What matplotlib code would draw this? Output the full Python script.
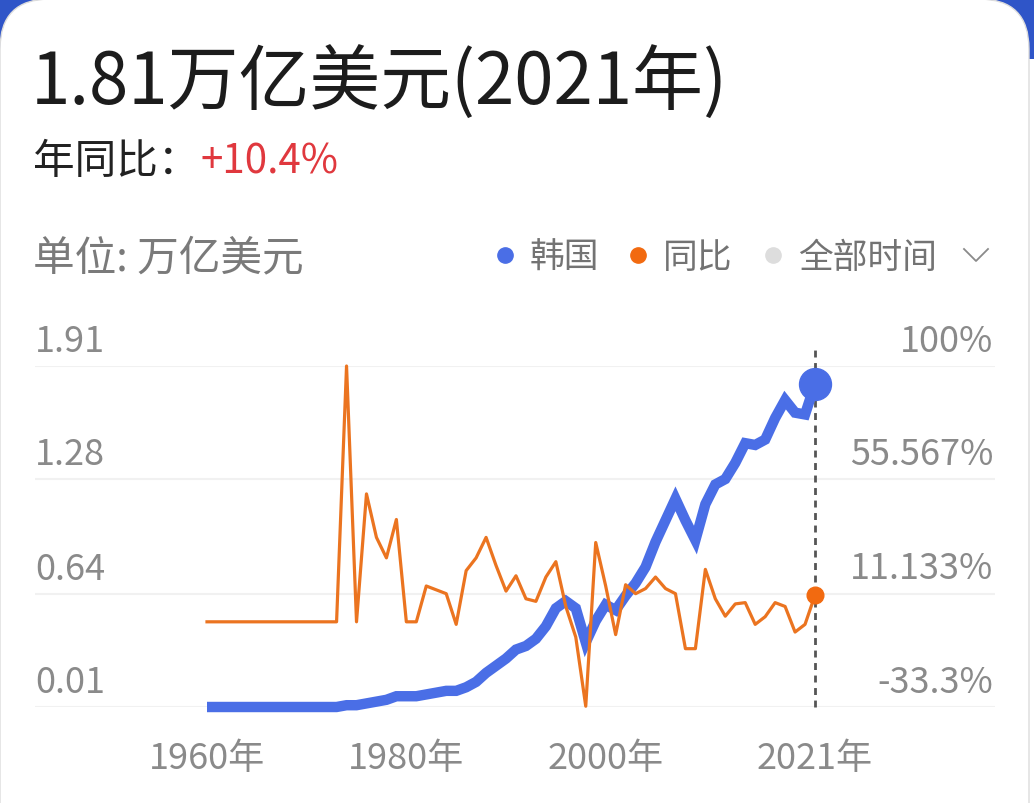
import numpy as np
import matplotlib.pyplot as plt
from matplotlib.patches import FancyBboxPatch, Rectangle
from matplotlib.lines import Line2D
from matplotlib.transforms import IdentityTransform

plt.rcParams['font.family'] = ['Noto Sans CJK SC', 'DejaVu Sans']

# Korea GDP (trillion USD) and year-on-year change (%), 1960-2021
years = list(range(1960, 2022))
gdp = [0.01] * 14 + [
    0.02, 0.02, 0.03, 0.04, 0.05, 0.07, 0.07, 0.07, 0.08, 0.09,   # 1974-1983
    0.10, 0.10, 0.12, 0.15, 0.20, 0.24, 0.28, 0.33, 0.35, 0.39,   # 1984-1993
    0.46, 0.56, 0.60, 0.56, 0.37, 0.49, 0.58, 0.55, 0.63, 0.70,   # 1994-2003
    0.79, 0.93, 1.05, 1.17, 1.05, 0.94, 1.14, 1.25, 1.28, 1.37,   # 2004-2013
    1.48, 1.47, 1.50, 1.62, 1.72, 1.65, 1.64, 1.81,               # 2014-2021
]
yoy = [0] * 14 + [
    100, 0, 50, 33, 25, 40, 0, 0, 14, 12.5,                       # 1974-1983
    11, -1, 20, 25, 33, 22, 12, 18, 9, 8,                         # 1984-1993
    17.5, 23.5, 6, -6, -33, 31, 14, -5, 14.5, 11,                 # 1994-2003
    13, 17.5, 13, 11, -10.5, -10.5, 20.5, 9, 2.2, 7,              # 2004-2013
    7.5, -1, 2, 7.5, 6, -4, -1, 10.4,                             # 2014-2021
]
left_ticks = [0.01, 0.64, 1.28, 1.91]
right_ticks = [-33.3, 11.133, 55.567, 100]
right_labels = ['-33.3%', '11.133%', '55.567%', '100%']
x_ticks = [1960, 1980, 2000, 2021]
x_labels = ['1960年', '1980年', '2000年', '2021年']

BLUE = '#4a6ee6'
ORANGE = '#eb7420'
W, H = 1034, 804

fig = plt.figure(figsize=(W / 100, H / 100), dpi=100)
fig.patch.set_facecolor('white')

# card background with rounded top corners
fig.patches.append(Rectangle((0, H - 60), W, 60, transform=IdentityTransform(),
                             facecolor='#2f55c8', edgecolor='none', zorder=-3))
fig.patches.append(FancyBboxPatch((0, -80), W - 5, H + 80,
                                  boxstyle='round,pad=0,rounding_size=50',
                                  transform=IdentityTransform(),
                                  facecolor='white', edgecolor='#dcdcdc',
                                  linewidth=1, zorder=-2))


def fx(px):
    return px / W


def fy(py):
    return 1 - py / H


fig.text(fx(31), fy(105), '1.81万亿美元(2021年)', fontsize=51, color='#1c1c1c',
         va='baseline', ha='left')
fig.text(fx(33), fy(174), '年同比：', fontsize=30, color='#222222',
         va='baseline', ha='left')
fig.text(fx(201), fy(174), '+10.4%', fontsize=29, color='#e0383e',
         va='baseline', ha='left')
fig.text(fx(33), fy(270), '单位: 万亿美元', fontsize=30, color='#7a7a7a',
         va='baseline', ha='left')

# legend row
legend_items = [(505, BLUE, '韩国'), (638, '#f26a10', '同比'), (773, '#dddddd', '全部时间')]
for px, col, lab in legend_items:
    fig.lines.append(Line2D([fx(px)], [fy(256)], marker='o', markersize=11,
                            color=col, transform=fig.transFigure))
    fig.text(fx(px + 25), fy(268), lab, fontsize=25, color='#737373',
             va='baseline', ha='left')
fig.lines.append(Line2D([fx(964), fx(976), fx(988)], [fy(250), fy(262), fy(250)],
                        color='#8a8a8a', linewidth=1.3, transform=fig.transFigure))

# plot area: pixel 35..995 horizontally, 367..708 vertically
ax = fig.add_axes([fx(35), fy(708), (995 - 35) / W, (708 - 367) / H])
ax2 = ax.twinx()
px_per_year = (815 - 207) / 61
ax.set_xlim(1960 - (207 - 35) / px_per_year, 2021 + (995 - 815) / px_per_year)
ax.set_ylim(0.01, 1.91)
ax2.set_ylim(-33.3, 100)

for a in (ax, ax2):
    for s in a.spines.values():
        s.set_visible(False)
    a.set_yticks([])
    a.patch.set_visible(False)

for v in left_ticks:
    ax.axhline(v, color='#f1f1f1', linewidth=1.5, zorder=0)
    ax.annotate(f'{v:.2f}', xy=(0, v), xycoords=('axes fraction', 'data'),
                xytext=(0, 11), textcoords='offset points', ha='left',
                va='baseline', fontsize=26, color='#8a8a8a')
for v, lab in zip(right_ticks, right_labels):
    ax2.annotate(lab, xy=(1, v), xycoords=('axes fraction', 'data'),
                 xytext=(-1, 11), textcoords='offset points', ha='right',
                 va='baseline', fontsize=26, color='#8a8a8a')

ax.set_xticks(x_ticks)
ax.set_xticklabels(x_labels, fontsize=26, color='#8a8a8a')
ax.tick_params(axis='x', length=0, pad=24)

ax.axvline(years[-1], ymin=0, ymax=1.05, color='#555555', linewidth=2,
           linestyle=(0, (2.5, 2)), clip_on=False, zorder=1)

ax.plot(years, gdp, color=BLUE, linewidth=7.5, solid_joinstyle='miter',
        solid_capstyle='butt', clip_on=False, zorder=3)
ax.plot(years[-1], gdp[-1], 'o', color=BLUE, markersize=23, clip_on=False, zorder=4)
ax2.plot(years, yoy, color=ORANGE, linewidth=2.3, clip_on=False, zorder=3)
ax2.plot(years[-1], yoy[-1], 'o', color='#f26a10', markersize=12, clip_on=False, zorder=4)

fig.savefig('out.png', dpi=100)
